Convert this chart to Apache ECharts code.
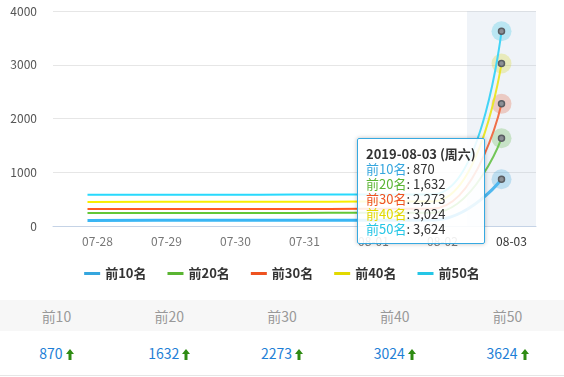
<!DOCTYPE html>
<html lang="zh">
<head>
    <meta charset="UTF-8">
    <script src="https://cdn.jsdelivr.net/npm/echarts@6/dist/echarts.min.js"></script>
    <title>排名趋势</title>
    <style>
        body { margin: 0; background: #fff; font-family: "Noto Sans CJK SC", "Noto Sans", sans-serif; }
        #chart { width: 564px; height: 300px; }
        table { width: 564px; border-collapse: collapse; table-layout: fixed; }
        th { background: #f7f7f7; color: #999; font-weight: normal; font-size: 14px; height: 31px; padding: 0; }
        td { height: 44px; padding: 0; text-align: center; color: #1e7fd6; font-size: 14px; border-bottom: 1px solid #e6e6e6; }
        td svg { vertical-align: -1px; margin-left: 3px; }
    </style>
</head>
<body>

<div id="chart"></div>
<table>
    <thead><tr id="head"></tr></thead>
    <tbody><tr id="vals"></tr></tbody>
</table>

<script>
    // dates shown on the x axis (label is MM-DD)
    const dates = ['2019-07-28', '2019-07-29', '2019-07-30', '2019-07-31', '2019-08-01', '2019-08-02', '2019-08-03'];
    const weekdays = ['周日', '周一', '周二', '周三', '周四', '周五', '周六'];
    const categories = dates.map(d => d.slice(5));

    const seriesNames = ['前10名', '前20名', '前30名', '前40名', '前50名'];
    const top10 = [104, 106, 107, 107, 108, 110, 870];
    const top20 = [240, 242, 243, 244, 245, 247, 1632];
    const top30 = [314, 316, 317, 318, 319, 321, 2273];
    const top40 = [446, 450, 452, 453, 454, 456, 3024];
    const top50 = [580, 582, 583, 584, 585, 587, 3624];
    const seriesData = [top10, top20, top30, top40, top50];

    const colors = ['#35a6de', '#5ab532', '#ee5220', '#e2d900', '#25c6e6'];
    const halos = ['rgba(53,166,222,0.3)', 'rgba(90,181,50,0.3)', 'rgba(238,82,32,0.3)', 'rgba(226,217,0,0.3)', 'rgba(37,198,230,0.3)'];

    const tableHeads = ['前10', '前20', '前30', '前40', '前50'];

    const font = '"Noto Sans CJK SC", "Noto Sans", sans-serif';
    const last = categories.length - 1;

    const chart = echarts.init(document.getElementById('chart'));

    const option = {
        animation: false,
        color: colors,
        textStyle: { fontFamily: font },
        grid: { left: 53, right: 28, top: 11, bottom: 74 },
        tooltip: {
            trigger: 'axis',
            triggerOn: 'none',
            alwaysShowContent: true,
            transitionDuration: 0,
            position: [357, 138],
            backgroundColor: 'rgba(255,255,255,0.88)',
            borderColor: '#36a9e1',
            borderWidth: 1,
            padding: [7, 8],
            extraCssText: 'box-shadow: 0 0 4px rgba(0,0,0,0.25); border-radius: 2px; line-height: 15px;',
            textStyle: { fontSize: 13, color: '#333', fontFamily: font },
            axisPointer: {
                type: 'shadow',
                shadowStyle: { color: 'rgba(175,195,220,0.2)' }
            },
            formatter: params => {
                const idx = params[0].dataIndex;
                const day = new Date(dates[idx] + 'T00:00:00').getDay();
                let html = '<b>' + dates[idx] + ' (' + weekdays[day] + ')</b>';
                params.forEach(p => {
                    html += '<br><span style="color:' + colors[p.seriesIndex] + '">' + p.seriesName + '</span>: '
                        + Number(p.value).toLocaleString('en-US');
                });
                return html;
            }
        },
        legend: {
            data: seriesNames,
            top: 262,
            left: 'center',
            icon: 'rect',
            itemWidth: 16,
            itemHeight: 3,
            itemGap: 21,
            textStyle: { fontSize: 13, fontWeight: 'bold', color: '#333' }
        },
        xAxis: {
            type: 'category',
            data: categories,
            boundaryGap: true,
            axisLine: { lineStyle: { color: '#c5d3e6' } },
            axisTick: { length: 5, lineStyle: { color: '#c5d3e6' } },
            axisLabel: {
                fontSize: 12,
                margin: 9,
                padding: [0, 0, 0, 20],
                color: (v, i) => i === last ? '#333' : '#777'
            },
            splitLine: { show: false }
        },
        yAxis: {
            type: 'value',
            min: 0,
            max: 4000,
            interval: 1000,
            axisLine: { show: false },
            axisTick: { show: false },
            axisLabel: { fontSize: 12, color: '#555', margin: 16, formatter: v => String(v) },
            splitLine: { lineStyle: { color: '#e6e6e6' } }
        },
        series: seriesNames.map((name, i) => ({
            name: name,
            type: 'line',
            smooth: true,
            symbol: 'none',
            showSymbol: true,
            emphasis: { scale: false, focus: 'none' },
            lineStyle: { width: i === 0 ? 3 : 2 },
            data: seriesData[i].map((v, j) => j === last ? {
                value: v,
                symbol: 'circle',
                symbolSize: 6,
                itemStyle: { color: '#777', borderColor: '#444', borderWidth: 1.5 }
            } : v),
            markPoint: {
                z: 1,
                silent: true,
                symbol: 'circle',
                symbolSize: 20,
                label: { show: false },
                itemStyle: { color: halos[i] },
                data: [{ coord: [categories[last], seriesData[i][last]] }]
            }
        }))
    };

    chart.setOption(option);
    chart.dispatchAction({ type: 'showTip', seriesIndex: 0, dataIndex: last });

    // table under the chart: latest value of each series
    const arrow = '<svg width="8" height="11" viewBox="0 0 8 11"><path d="M4 0 L8 5 L5.5 5 L5.5 11 L2.5 11 L2.5 5 L0 5 Z" fill="#2e8b12"/></svg>';
    document.getElementById('head').innerHTML = tableHeads.map(h => '<th>' + h + '</th>').join('');
    document.getElementById('vals').innerHTML = seriesData.map(d => '<td>' + d[last] + arrow + '</td>').join('');
</script>

</body>
</html>
